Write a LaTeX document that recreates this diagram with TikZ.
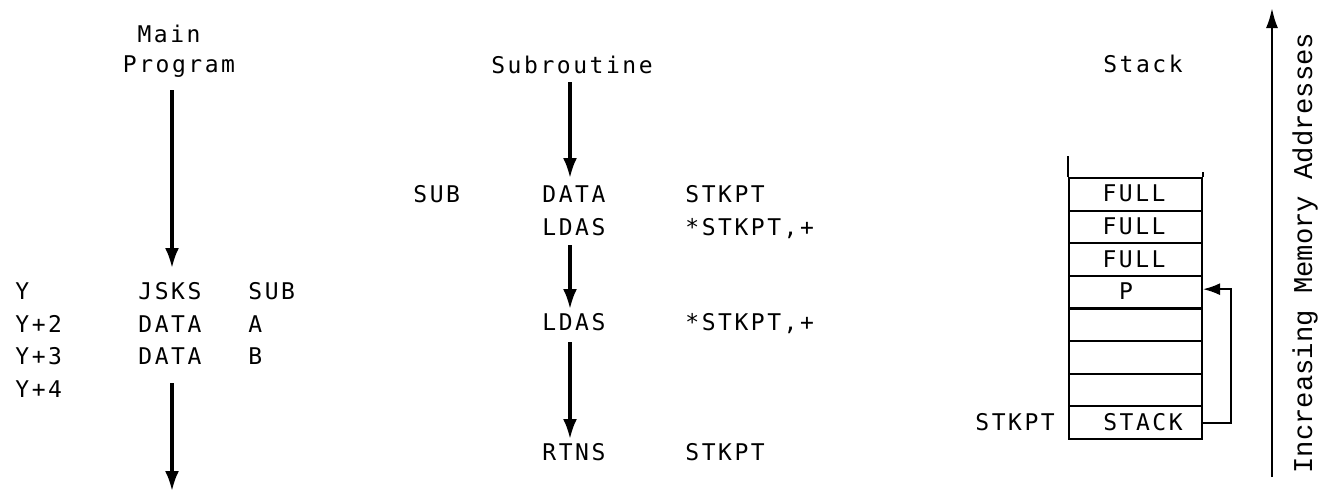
\documentclass[tikz,border=0pt]{standalone}
\usepackage{fontspec}
\newfontfamily\tw[LetterSpace=11]{DejaVu Sans Mono}
\newfontfamily\cour{Liberation Mono}
\usetikzlibrary{arrows.meta}
\begin{document}
\begin{tikzpicture}[x=0.5pt,y=-0.5pt,
  txt/.style={font=\tw\fontsize{11.5}{13}\selectfont, inner sep=0pt, anchor=base west},
  ctxt/.style={font=\tw\fontsize{11.5}{13}\selectfont, inner sep=0pt, anchor=base},
  flow/.style={line width=1.6pt, -{Latex[length=10pt,width=7pt]}},
  cell/.style={draw, line width=1pt, minimum width=66.5pt, minimum height=16.3pt, inner sep=0pt}]
\useasboundingbox (0,0) rectangle (1330,494);

% ---------- Main program ----------
\node[ctxt] (main) at (169,42.5) {Main};
\node[ctxt] (prog) at (179,72.5) {Program};
\coordinate (m1) at (172,90);
\coordinate (m2) at (172,268);
\draw[flow] (m1) -- (m2);
\node[txt] (y0) at (15,299.5) {Y};
\node[txt] (y2) at (15,332.5) {Y+2};
\node[txt] (y3) at (15,364.5) {Y+3};
\node[txt] (y4) at (15,397.5) {Y+4};
\node[txt] (jsks) at (138,299.5) {JSKS};
\node[txt] (data1) at (138,332.5) {DATA};
\node[txt] (data2) at (138,364.5) {DATA};
\node[txt] (subop) at (248,299.5) {SUB};
\node[txt] (aop) at (248,332.5) {A};
\node[txt] (bop) at (248,364.5) {B};
\coordinate (m3) at (172,383);
\coordinate (m4) at (172,491);
\draw[flow] (m3) -- (m4);

% ---------- Subroutine ----------
\node[ctxt] (subt) at (572,73.5) {Subroutine};
\coordinate (s1) at (570,82);
\coordinate (s2) at (570,178);
\draw[flow] (s1) -- (s2);
\node[txt] (sublab) at (413,202.5) {SUB};
\node[txt] (sdata) at (542,202.5) {DATA};
\node[txt] (sdop) at (685,202.5) {STKPT};
\node[txt] (lda1) at (542,235.5) {LDAS};
\node[txt] (lda1op) at (685,235.5) {*STKPT,+};
\coordinate (s3) at (570,245);
\coordinate (s4) at (570,309);
\draw[flow] (s3) -- (s4);
\node[txt] (lda2) at (542,330.5) {LDAS};
\node[txt] (lda2op) at (685,330.5) {*STKPT,+};
\coordinate (s5) at (570,342);
\coordinate (s6) at (570,439);
\draw[flow] (s5) -- (s6);
\node[txt] (rtns) at (542,460.5) {RTNS};
\node[txt] (rtnsop) at (685,460.5) {STKPT};

% ---------- Stack ----------
\node[ctxt] (stackt) at (1143,72.5) {Stack};
\foreach \i in {1,...,8} {
  \node[cell] (c\i) at (1135.5,{194.3+32.625*(\i-1)}) {};
}
\draw[line width=1pt] (c1.north west) -- ++(0,-21);
\draw[line width=1pt] (c1.north east) -- ++(0,-5);
\node[ctxt] (f1) at (1134,201.8) {FULL};
\node[ctxt] (f2) at (1134,234.4) {FULL};
\node[ctxt] (f3) at (1134,267.0) {FULL};
\node[ctxt] (pp) at (1126,299.7) {P};
\node[ctxt] (stk) at (1143,430.2) {STACK};
\node[txt] (stkpt) at (975,430.2) {STKPT};
\draw[line width=1pt, -{Latex[length=8.5pt,width=6pt]}] (c8.east) -- ++(28,0) |- ([yshift=1.5pt]c4.east);

% ---------- Address direction ----------
\coordinate (a1) at (1272,477);
\coordinate (a2) at (1272,8);
\draw[line width=1.2pt, -{Latex[length=10pt,width=6pt]}] (a1) -- (a2);
\node[rotate=90, inner sep=0pt, font=\cour\fontsize{13.6}{15}\selectfont] (inc) at (1305,253) {Increasing Memory Addresses};
\end{tikzpicture}
\end{document}
